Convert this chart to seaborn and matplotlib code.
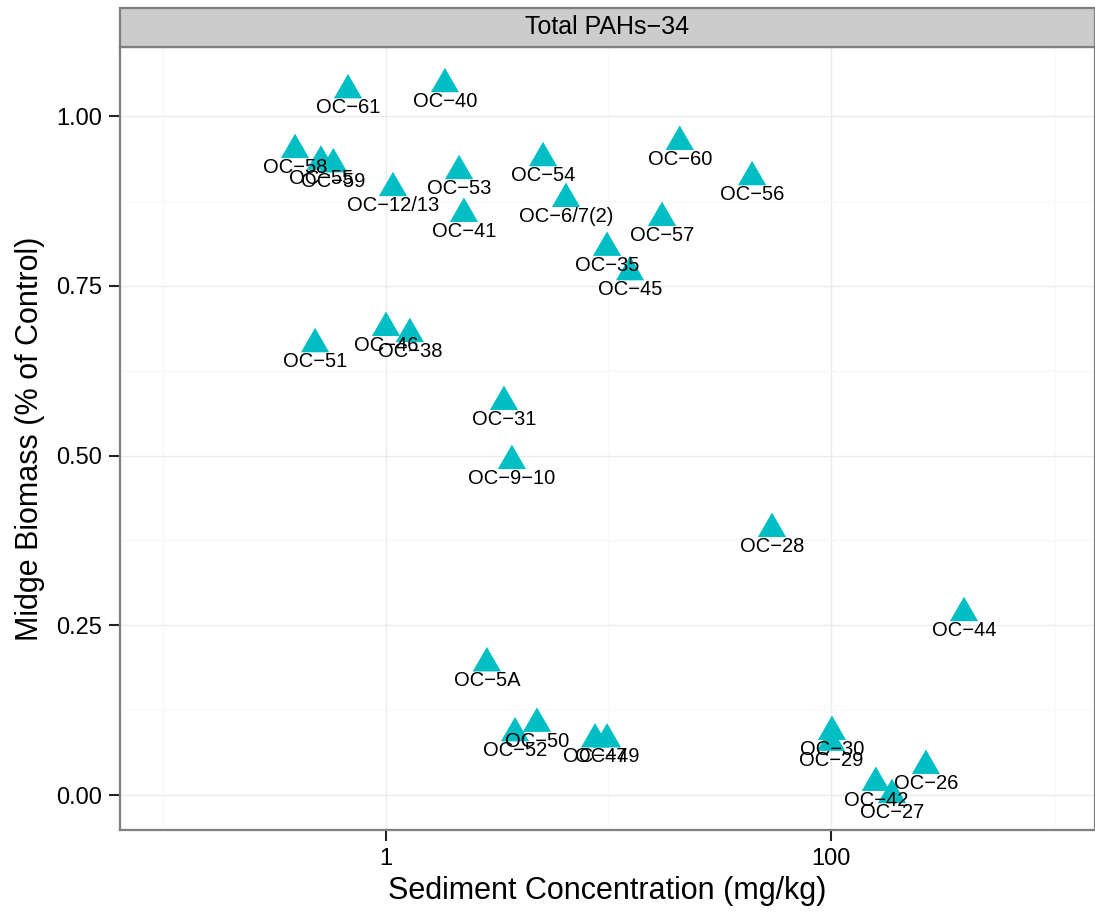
import numpy as np
import pandas as pd
import matplotlib
matplotlib.use("Agg")
import matplotlib.pyplot as plt
import seaborn as sns
from matplotlib.patches import Rectangle
from matplotlib.ticker import FixedLocator, NullFormatter

# ---- data ----
sites = ["OC−61", "OC−40", "OC−58", "OC−55", "OC−59", "OC−12/13", "OC−53", "OC−41",
         "OC−54", "OC−6/7(2)", "OC−60", "OC−56", "OC−57", "OC−35", "OC−45", "OC−51",
         "OC−46", "OC−38", "OC−31", "OC−9−10", "OC−28", "OC−44", "OC−5A", "OC−52",
         "OC−50", "OC−47", "OC−49", "OC−30", "OC−29", "OC−42", "OC−27", "OC−26"]
conc = [0.675, 1.84, 0.39, 0.51, 0.58, 1.075, 2.13, 2.24,
        5.08, 6.44, 20.9, 44.2, 17.4, 9.85, 12.5, 0.48,
        1.0, 1.28, 3.39, 3.68, 54.3, 396, 2.84, 3.80,
        4.77, 8.7, 9.85, 101, 100, 159, 188, 267]
biomass = [1.038, 1.047, 0.950, 0.933, 0.929, 0.894, 0.919, 0.856,
           0.938, 0.878, 0.962, 0.910, 0.850, 0.806, 0.770, 0.664,
           0.688, 0.679, 0.579, 0.492, 0.392, 0.268, 0.194, 0.091,
           0.105, 0.082, 0.082, 0.093, 0.077, 0.018, 0.000, 0.043]
x_ticks = [1, 100]
x_tick_labels = ["1", "100"]
y_ticks = [0.0, 0.25, 0.5, 0.75, 1.0]
y_tick_labels = ["0.00", "0.25", "0.50", "0.75", "1.00"]
panel_title = "Total PAHs−34"

df = pd.DataFrame({"site": sites, "conc": conc, "biomass": biomass})

sns.set_style("white")
plt.rcParams["font.family"] = ["Liberation Sans", "DejaVu Sans"]
plt.rcParams["text.color"] = "black"
plt.rcParams["axes.labelcolor"] = "black"

W, H = 1095, 914
fig = plt.figure(figsize=(W / 100, H / 100), dpi=100)
ax = fig.add_axes([120 / W, 1 - 830 / H, (W - 120) / W, (830 - 47) / H])

ax.set_xscale("log")
ax.set_xlim(10 ** ((120 - 386) / 222.5), 10 ** ((W - 386) / 222.5))
ax.set_ylim(-35 / 679 * 1.0, (795 - 47) / 679)

# grid
ax.xaxis.set_major_locator(FixedLocator(x_ticks))
ax.xaxis.set_minor_locator(FixedLocator([0.1, 10, 1000]))
ax.xaxis.set_minor_formatter(NullFormatter())
ax.yaxis.set_major_locator(FixedLocator(y_ticks))
ax.yaxis.set_minor_locator(FixedLocator([0.125, 0.375, 0.625, 0.875]))
ax.grid(True, which="major", color="#EBEBEB", linewidth=1.0)
ax.grid(True, which="minor", color="#F7F7F7", linewidth=1.0)
ax.set_axisbelow(True)

tri = [(0, 1), (-0.866, -0.5), (0.866, -0.5)]
sns.scatterplot(data=df, x="conc", y="biomass", ax=ax, marker=tri, s=23.5 ** 2,
                color="#00BFC4", edgecolor="none", linewidth=0, zorder=3)

for s_, xv, yv in zip(sites, conc, biomass):
    ax.annotate(s_, (xv, yv), xytext=(0, -12.5), textcoords="offset points",
                ha="center", va="center", fontsize=14.5, color="black", zorder=4)

ax.set_xticks(x_ticks)
ax.set_xticklabels(x_tick_labels)
ax.set_yticks(y_ticks)
ax.set_yticklabels(y_tick_labels)
ax.tick_params(axis="both", which="major", bottom=True, left=True, direction="out",
               length=8, width=1.5, color="#222222",
               labelsize=17, labelcolor="black", pad=5)
ax.tick_params(axis="both", which="minor", length=0)

ax.set_xlabel("Sediment Concentration (mg/kg)", fontsize=22, labelpad=4, color="black")
ax.set_ylabel("Midge Biomass (% of Control)", fontsize=22, labelpad=8, color="black")

for sp in ax.spines.values():
    sp.set_color("#7F7F7F")
    sp.set_linewidth(1.6)

# facet strip
strip = Rectangle((120 / W, 1 - 47 / H), (W - 120) / W, 39 / H, transform=fig.transFigure,
                  facecolor="#CCCCCC", edgecolor="#7F7F7F", linewidth=1.6, clip_on=False)
fig.add_artist(strip)
fig.text((120 + W) / 2 / W, 1 - 27.5 / H, panel_title, ha="center", va="center",
         fontsize=18, color="black")

fig.savefig("out.png", dpi=100)
